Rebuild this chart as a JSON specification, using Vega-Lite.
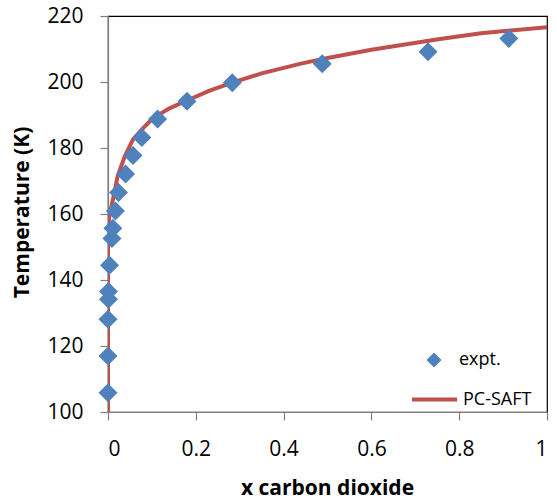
{
  "$schema": "https://vega.github.io/schema/vega-lite/v6.json",
  "width": 439,
  "height": 396,
  "autosize": "none",
  "padding": {"left": 108, "top": 16, "right": 10, "bottom": 89},
  "background": "white",
  "config": {
    "font": "Open Sans",
    "view": {"stroke": "#000000", "strokeWidth": 1.2},
    "axis": {
      "grid": false,
      "domainColor": "#808080",
      "tickColor": "#808080",
      "domainWidth": 1.2,
      "tickWidth": 1.2,
      "tickSize": 8,
      "labelFont": "Open Sans",
      "labelFontSize": 21,
      "labelColor": "#000000",
      "titleFont": "Open Sans",
      "titleFontSize": 21,
      "titleFontWeight": "bold",
      "titleColor": "#000000"
    },
    "legend": {"labelFont": "Open Sans", "labelFontSize": 18, "labelColor": "#000000", "padding": 0}
  },
  "datasets": {
    "expt": [
      {"x": 0.283, "T": 199.8, "series": "expt."},
      {"x": 0.180, "T": 194.2, "series": "expt."},
      {"x": 0.113, "T": 188.8, "series": "expt."},
      {"x": 0.077, "T": 183.2, "series": "expt."},
      {"x": 0.057, "T": 177.7, "series": "expt."},
      {"x": 0.040, "T": 172.1, "series": "expt."},
      {"x": 0.024, "T": 166.5, "series": "expt."},
      {"x": 0.017, "T": 160.9, "series": "expt."},
      {"x": 0.011, "T": 155.7, "series": "expt."},
      {"x": 0.009, "T": 152.6, "series": "expt."},
      {"x": 0.0035, "T": 144.5, "series": "expt."},
      {"x": 0.001, "T": 136.5, "series": "expt."},
      {"x": 0.001, "T": 134.2, "series": "expt."},
      {"x": 0.0, "T": 128.1, "series": "expt."},
      {"x": 0.0, "T": 117.0, "series": "expt."},
      {"x": 0.0, "T": 105.8, "series": "expt."},
      {"x": 0.488, "T": 205.5, "series": "expt."},
      {"x": 0.729, "T": 209.2, "series": "expt."},
      {"x": 0.913, "T": 213.2, "series": "expt."}
    ],
    "model": [
      {"x": 0.0, "T": 100.0, "series": "PC-SAFT"},
      {"x": 0.0, "T": 155.0, "series": "PC-SAFT"},
      {"x": 0.003, "T": 159.5, "series": "PC-SAFT"},
      {"x": 0.007, "T": 161.8, "series": "PC-SAFT"},
      {"x": 0.015, "T": 166.8, "series": "PC-SAFT"},
      {"x": 0.022, "T": 171.5, "series": "PC-SAFT"},
      {"x": 0.038, "T": 177.4, "series": "PC-SAFT"},
      {"x": 0.057, "T": 182.6, "series": "PC-SAFT"},
      {"x": 0.080, "T": 186.0, "series": "PC-SAFT"},
      {"x": 0.102, "T": 189.0, "series": "PC-SAFT"},
      {"x": 0.140, "T": 192.0, "series": "PC-SAFT"},
      {"x": 0.180, "T": 194.4, "series": "PC-SAFT"},
      {"x": 0.230, "T": 197.3, "series": "PC-SAFT"},
      {"x": 0.283, "T": 199.8, "series": "PC-SAFT"},
      {"x": 0.350, "T": 202.6, "series": "PC-SAFT"},
      {"x": 0.437, "T": 205.5, "series": "PC-SAFT"},
      {"x": 0.500, "T": 207.3, "series": "PC-SAFT"},
      {"x": 0.600, "T": 209.8, "series": "PC-SAFT"},
      {"x": 0.756, "T": 213.0, "series": "PC-SAFT"},
      {"x": 0.850, "T": 214.8, "series": "PC-SAFT"},
      {"x": 1.0, "T": 216.6, "series": "PC-SAFT"}
    ]
  },
  "encoding": {
    "x": {
      "field": "x", "type": "quantitative",
      "scale": {"domain": [0, 1], "nice": false, "zero": false},
      "axis": {"values": [0, 0.2, 0.4, 0.6, 0.8, 1], "labelExpr": "'' + datum.value", "labelPadding": 18, "title": "x carbon dioxide", "titleX": 219, "titleY": 76, "titleBaseline": "middle"}
    },
    "y": {
      "field": "T", "type": "quantitative",
      "scale": {"domain": [100, 220], "nice": false, "zero": false},
      "axis": {"values": [100, 120, 140, 160, 180, 200, 220], "labelPadding": 17, "title": "Temperature (K)", "titleX": -86, "titleY": 196, "titleBaseline": "middle"}
    }
  },
  "layer": [
    {
      "data": {"name": "model"},
      "mark": {"type": "line", "strokeWidth": 4, "clip": true},
      "encoding": {
        "color": {
          "field": "series", "type": "nominal",
          "scale": {"domain": ["PC-SAFT"], "range": ["#C0504D"]},
          "legend": {"title": null, "orient": "none", "legendX": 302, "legendY": 359, "symbolType": "stroke", "symbolSize": 2025, "symbolStrokeWidth": 4, "labelOffset": 4}
        }
      }
    },
    {
      "data": {"name": "expt"},
      "mark": {"type": "point", "filled": true, "size": 360, "color": "#4F81BD", "opacity": 1},
      "encoding": {
        "shape": {
          "field": "series", "type": "nominal",
          "scale": {"domain": ["expt."], "range": ["diamond"]},
          "legend": {"title": null, "orient": "none", "legendX": 317, "legendY": 335, "symbolSize": 225, "symbolFillColor": "#4F81BD", "symbolStrokeWidth": 0, "symbolOpacity": 1, "labelOffset": 16}
        }
      }
    }
  ]
}
